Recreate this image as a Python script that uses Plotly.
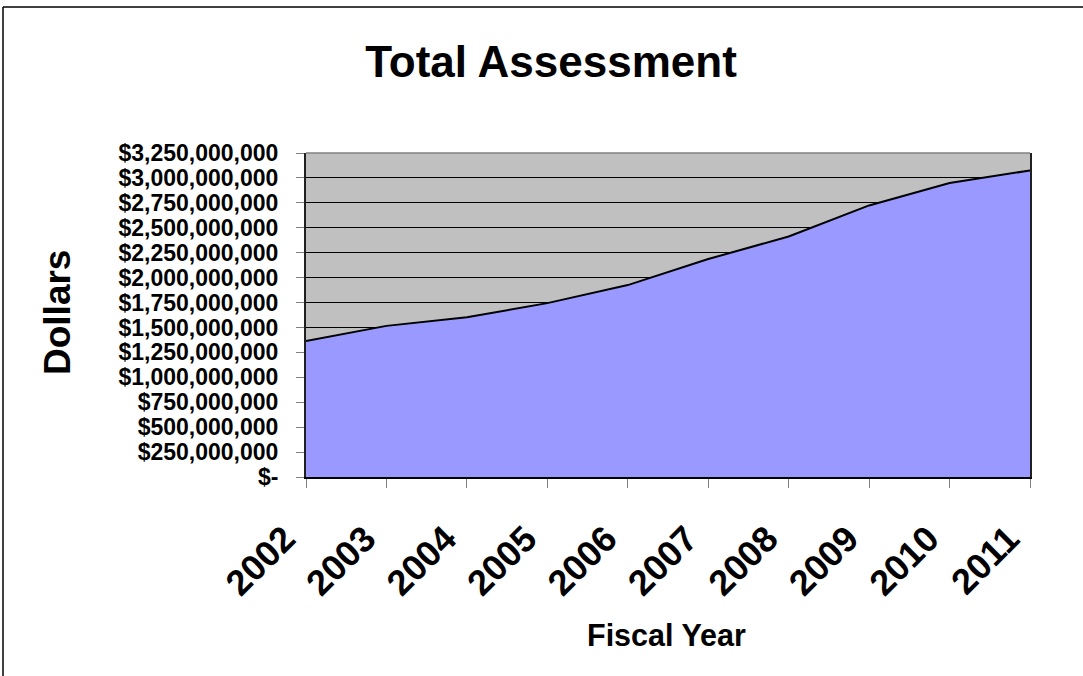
import plotly.graph_objects as go

years = ["2002", "2003", "2004", "2005", "2006", "2007", "2008", "2009", "2010", "2011"]
assessment = [1365e6, 1516e6, 1603e6, 1744e6, 1925e6, 2186e6, 2413e6, 2724e6, 2949e6, 3075e6]
y_ticks = [i * 250e6 for i in range(14)]


def money(v):
    return "$-" if v == 0 else "${:,.0f}".format(v)


y_labels = [money(v) for v in y_ticks]

FONT = "Liberation Sans, Arial, sans-serif"
W, H = 1083, 676
L, R, T, B = 306, 53, 153, 199
pw, ph = W - L - R, H - T - B


def px_x(px):
    return (px - L) / pw


def px_y(py):
    return (H - B - py) / ph


fig = go.Figure()
fig.add_trace(go.Scatter(
    x=years, y=assessment, mode="lines", fill="tozeroy",
    fillcolor="#9999FF", line=dict(color="black", width=2),
    hoverinfo="x+y", showlegend=False,
))

fig.update_layout(
    width=W, height=H,
    margin=dict(l=L, r=R, t=T, b=B, pad=0),
    paper_bgcolor="white", plot_bgcolor="#C0C0C0",
    font=dict(family=FONT, color="black"),
    title=dict(text="<b>Total Assessment</b>", font=dict(size=44, family=FONT),
               x=551 / W, xanchor="center", y=1 - 62 / H, yanchor="middle",
               xref="container", yref="container"),
    xaxis=dict(type="category", range=[0, len(years) - 1],
               showgrid=False, zeroline=False,
               ticks="outside", ticklen=9, tickcolor="#808080", tickwidth=1,
               tickangle=-45, tickfont=dict(size=36, family=FONT),
               tickprefix="<b>", ticksuffix="</b>&nbsp;&nbsp;&nbsp;", ticklabelstandoff=-6,
               showline=True, linecolor="black", linewidth=2, mirror=False),
    yaxis=dict(range=[0, 3.25e9], tickvals=y_ticks, ticktext=["<b>%s</b>" % s for s in y_labels],
               showgrid=True, gridcolor="black", gridwidth=1, zeroline=False,
               ticks="outside", ticklen=8, tickcolor="#808080", tickwidth=1,
               tickfont=dict(size=23, family=FONT), ticklabelstandoff=13,
               showline=True, linecolor="#202020", linewidth=2, mirror=True),
    annotations=[
        dict(text="<b>Dollars</b>", textangle=-90, font=dict(size=37, family=FONT),
             x=px_x(57), y=px_y(313), xref="paper", yref="paper", showarrow=False,
             xanchor="center", yanchor="middle"),
        dict(text="<b>Fiscal Year</b>", font=dict(size=30.5, family=FONT),
             x=px_x(666), y=px_y(635), xref="paper", yref="paper", showarrow=False,
             xanchor="center", yanchor="middle"),
    ],
    shapes=[
        dict(type="line", xref="paper", yref="paper", x0=0, x1=1, y0=1, y1=1,
             line=dict(color="#808080", width=1.5), layer="above"),
        dict(type="line", xref="paper", yref="paper",
             x0=px_x(3), x1=px_x(3), y0=px_y(700), y1=px_y(7),
             line=dict(color="black", width=1.5)),
        dict(type="line", xref="paper", yref="paper",
             x0=px_x(3), x1=px_x(W + 10), y0=px_y(7), y1=px_y(7),
             line=dict(color="black", width=1.5)),
    ],
)

fig.write_html("out.html")
